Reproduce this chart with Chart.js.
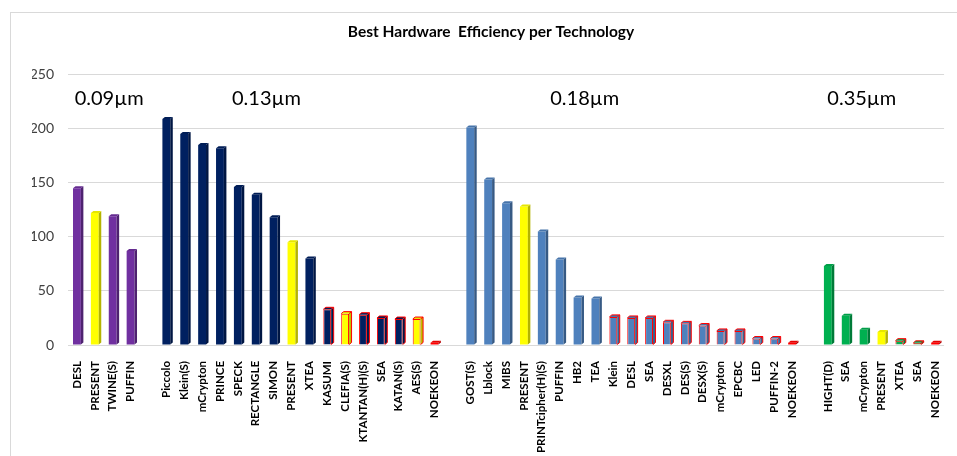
<!DOCTYPE html>
<html>
<head>
<meta charset="utf-8">
<script src="https://cdn.jsdelivr.net/npm/chart.js@4.4.1/dist/chart.umd.min.js"></script>
<style>
  html, body { margin: 0; padding: 0; background: #fff; }
  #wrap { width: 957px; height: 456px; }
</style>
</head>
<body>
<div id="wrap"><canvas id="chart" width="957" height="456"></canvas></div>
<script>
// technology groups (µm) and their ciphers
const groupNames = ["0.09µm", "0.13µm", "0.18µm", "0.35µm"];

const labels09 = ["DESL", "PRESENT", "TWINE(S)", "PUFFIN"];
const values09 = [145, 122, 119, 87];
const kinds09  = ["", "y", "", ""];

const labels13 = ["Piccolo", "Klein(S)", "mCrypton", "PRINCE", "SPECK", "RECTANGLE", "SIMON", "PRESENT", "XTEA",
                  "KASUMI", "CLEFIA(S)", "KTANTAN(H)(S)", "SEA", "KATAN(S)", "AES(S)", "NOEKEON"];
const values13 = [209, 195, 185, 182, 146, 139, 118, 95, 80, 33, 29, 28, 25, 24, 24, 2];
const kinds13  = ["", "", "", "", "", "", "", "y", "", "r", "yr", "r", "r", "r", "yr", "n"];

const labels18 = ["GOST(S)", "Lblock", "MIBS", "PRESENT", "PRINTcipher(H)(S)", "PUFFIN", "HB2", "TEA", "Klein", "DESL",
                  "SEA", "DESXL", "DES(S)", "DESX(S)", "mCrypton", "EPCBC", "LED", "PUFFIN-2", "NOEKEON"];
const values18 = [201, 153, 131, 128, 105, 79, 44, 43, 26, 25, 25, 21, 20, 18, 13, 13, 6, 6, 2];
const kinds18  = ["", "", "", "y", "", "", "", "", "r", "r", "r", "r", "r", "r", "r", "r", "r", "r", "n"];

const labels35 = ["HIGHT(D)", "SEA", "mCrypton", "PRESENT", "XTEA", "SEA", "NOEKEON"];
const values35 = [73, 27, 14, 12, 4, 2, 2];
const kinds35  = ["", "", "", "y", "r", "r", "n"];

const yTicks = [0, 50, 100, 150, 200, 250];

// where the group captions sit (fractional category index)
const captionAt = [1.8, 10.6, 28.4, 43.9];

const groupColors = ["#7030A0", "#002060", "#4F81BD", "#00B050"];

// build one category axis with an empty slot between groups
const groups = [
    [labels09, values09, kinds09],
    [labels13, values13, kinds13],
    [labels18, values18, kinds18],
    [labels35, values35, kinds35]
];
const labels = [], values = [], fills = [], borders = [], borderW = [];
groups.forEach((g, gi) => {
    if (gi > 0) {
        labels.push(""); values.push(null); fills.push("#fff"); borders.push("#fff"); borderW.push(0);
    }
    g[0].forEach((lab, i) => {
        const k = g[2][i];
        labels.push(lab);
        values.push(g[1][i]);
        let fill = groupColors[gi];
        if (k.includes("y")) fill = "#FFFF00";
        if (k === "n") fill = "#FF0000";
        fills.push(fill);
        borders.push(k.includes("r") ? "#FF0000" : fill);
        borderW.push(k.includes("r") ? 1 : 0);
    });
});

function shade(hex, f) {
    const n = parseInt(hex.slice(1), 16);
    const r = Math.round(((n >> 16) & 255) * f);
    const g = Math.round(((n >> 8) & 255) * f);
    const b = Math.round((n & 255) * f);
    return `rgb(${Math.min(r,255)},${Math.min(g,255)},${Math.min(b,255)})`;
}

// light frame around the whole chart
const framePlugin = {
    id: "frame",
    beforeDraw(chart) {
        const c = chart.ctx;
        c.save();
        c.strokeStyle = "#d9d9d9";
        c.lineWidth = 1;
        c.strokeRect(10.5, 12.5, chart.width, chart.height);
        c.restore();
    }
};

// simple 3D side/top faces for the bars
const bar3dPlugin = {
    id: "bar3d",
    afterDatasetsDraw(chart) {
        const c = chart.ctx;
        const meta = chart.getDatasetMeta(0);
        const d = 2.5, rise = 2;
        c.save();
        meta.data.forEach((el, i) => {
            if (values[i] === null) return;
            const { x, y, base, width } = el.getProps(["x", "y", "base", "width"], true);
            const l = x - width / 2, r = x + width / 2;
            const edge = borderW[i] ? borders[i] : shade(fills[i], 0.7);
            c.fillStyle = borderW[i] ? shade(fills[i], 0.75) : shade(fills[i], 0.7);
            c.beginPath();
            c.moveTo(r, y); c.lineTo(r + d, y - rise); c.lineTo(r + d, base - rise); c.lineTo(r, base);
            c.closePath(); c.fill();
            c.fillStyle = shade(fills[i], 0.9);
            c.beginPath();
            c.moveTo(l, y); c.lineTo(l + d, y - rise); c.lineTo(r + d, y - rise); c.lineTo(r, y);
            c.closePath(); c.fill();
            if (borderW[i]) {
                c.strokeStyle = edge; c.lineWidth = 1;
                c.beginPath();
                c.moveTo(l, y); c.lineTo(l + d, y - rise); c.lineTo(r + d, y - rise);
                c.lineTo(r + d, base - rise); c.lineTo(r, base);
                c.moveTo(r, y); c.lineTo(r + d, y - rise);
                c.stroke();
            }
        });
        c.restore();
    }
};

// technology captions above each group
const captionPlugin = {
    id: "captions",
    afterDraw(chart) {
        const c = chart.ctx;
        const xs = chart.scales.x, ys = chart.scales.y;
        c.save();
        c.font = "20px Lato";
        c.fillStyle = "#000";
        c.textAlign = "center";
        c.textBaseline = "middle";
        groupNames.forEach((name, i) => {
            c.fillText(name, xs.getPixelForValue(captionAt[i]), ys.getPixelForValue(228));
        });
        c.restore();
    }
};

new Chart(document.getElementById("chart"), {
    type: "bar",
    data: {
        labels: labels,
        datasets: [{
            data: values,
            backgroundColor: fills,
            borderColor: borders,
            borderWidth: borderW,
            categoryPercentage: 1,
            barPercentage: 0.44
        }]
    },
    options: {
        responsive: false,
        animation: false,
        layout: { padding: { left: 32, right: 7, top: 0, bottom: 0 } },
        plugins: {
            legend: { display: false },
            tooltip: { enabled: false },
            title: {
                display: true,
                text: "Best Hardware  Efficiency per Technology",
                color: "#000",
                font: { family: "Lato", size: 15.5, weight: "bold" },
                padding: { top: 23, bottom: 33 }
            }
        },
        scales: {
            x: {
                grid: { display: false },
                border: { display: false },
                ticks: {
                    autoSkip: false,
                    minRotation: 90,
                    maxRotation: 90,
                    padding: 8,
                    color: "#000",
                    font: { family: "Lato", size: 11.5, weight: "bold" }
                },
                afterFit(scale) { scale.height = 111; }
            },
            y: {
                min: 0,
                max: 250,
                afterBuildTicks(scale) { scale.ticks = yTicks.map(v => ({ value: v })); },
                grid: { color: "#d9d9d9", drawTicks: false },
                border: { display: false },
                ticks: {
                    padding: 14,
                    color: "#404040",
                    font: { family: "Lato", size: 14 }
                },
                afterFit(scale) { scale.width = 36; }
            }
        }
    },
    plugins: [framePlugin, bar3dPlugin, captionPlugin]
});
</script>
</body>
</html>
